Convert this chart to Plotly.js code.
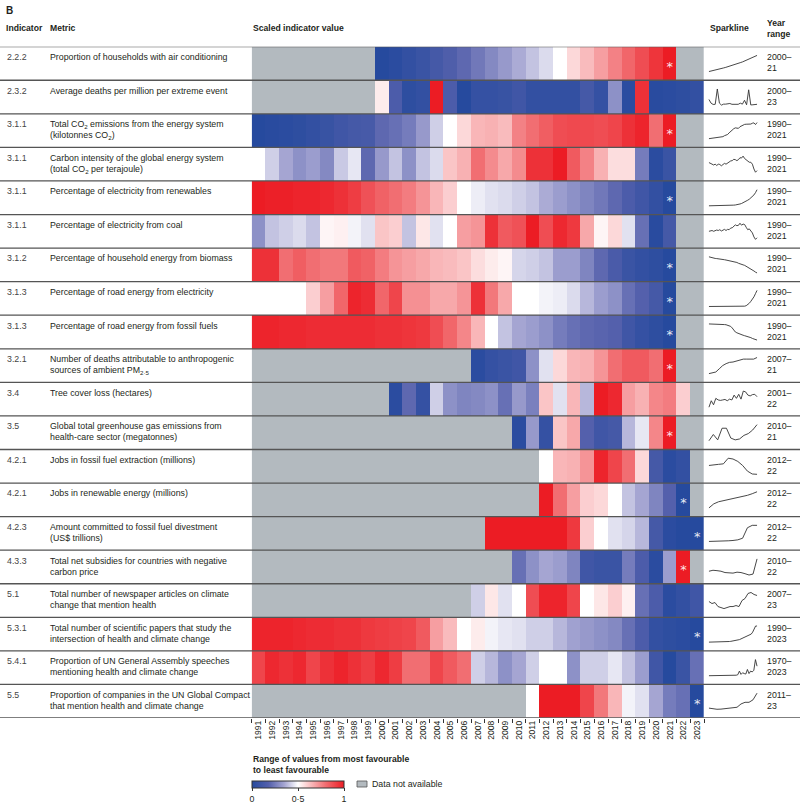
<!DOCTYPE html>
<html><head><meta charset="utf-8">
<script src="https://cdn.plot.ly/plotly-3.0.1.min.js"></script>
<style>html,body{margin:0;padding:0;background:#fff}#chart{width:800px;height:806px}</style>
</head><body><div id="chart"></div>
<script>
const years = [1991,1992,1993,1994,1995,1996,1997,1998,1999,2000,2001,2002,2003,2004,2005,2006,2007,2008,2009,2010,2011,2012,2013,2014,2015,2016,2017,2018,2019,2020,2021,2022,2023];
const indicators = ['2.2.2','2.3.2','3.1.1','3.1.1','3.1.1','3.1.1','3.1.2','3.1.3','3.1.3','3.2.1','3.4','3.5','4.2.1','4.2.1','4.2.3','4.3.3','5.1','5.3.1','5.4.1','5.5'];
const metrics = [
'Proportion of households with air conditioning',
'Average deaths per million per extreme event',
'Total CO<sub>2</sub> emissions from the energy system<br>(kilotonnes CO<sub>2</sub>)',
'Carbon intensity of the global energy system<br>(total CO<sub>2</sub> per terajoule)',
'Percentage of electricity from renewables',
'Percentage of electricity from coal',
'Percentage of household energy from biomass',
'Percentage of road energy from electricity',
'Percentage of road energy from fossil fuels',
'Number of deaths attributable to anthropogenic<br>sources of ambient PM<sub>2·5</sub>',
'Tree cover loss (hectares)',
'Global total greenhouse gas emissions from<br>health-care sector (megatonnes)',
'Jobs in fossil fuel extraction (millions)',
'Jobs in renewable energy (millions)',
'Amount committed to fossil fuel divestment<br>(US$ trillions)',
'Total net subsidies for countries with negative<br>carbon price',
'Total number of newspaper articles on climate<br>change that mention health',
'Total number of scientific papers that study the<br>intersection of health and climate change',
'Proportion of UN General Assembly speeches<br>mentioning health and climate change',
'Proportion of companies in the UN Global Compact<br>that mention health and climate change'
];
const yearRanges = ['2000–<br>21','2000–<br>23','1990–<br>2021','1990–<br>2021','1990–<br>2021','1990–<br>2021','1990–<br>2021','1990–<br>2021','1990–<br>2021','2007–<br>21','2001–<br>22','2010–<br>21','2012–<br>22','2012–<br>22','2012–<br>22','2010–<br>22','2007–<br>23','1990–<br>2023','1970–<br>2023','2011–<br>23'];

const N = null;
// scaled indicator values, 1991..2023 (null = data not available)
const sc_aircon = [N,N,N,N,N,N,N,N,N,0,0.02,0.05,0.08,0.12,0.16,0.2,0.24,0.28,0.32,0.36,0.4,0.44,0.5,0.58,0.64,0.7,0.76,0.82,0.88,0.94,1,N,N];
const sc_deaths = [N,N,N,N,N,N,N,N,N,0.54,0.15,0.03,0.05,1.0,0.15,0.0,0.06,0.06,0.07,0.1,0.05,0.05,0.05,0.05,0.12,0.06,0.3,0.02,0.95,0.01,0.02,0.03,0.05];
const sc_co2 = [0,0.01,0.02,0.03,0.05,0.07,0.1,0.12,0.13,0.2,0.22,0.25,0.32,0.42,0.5,0.58,0.65,0.66,0.64,0.76,0.8,0.84,0.88,0.89,0.89,0.88,0.9,0.95,0.98,0.8,1.0,N,N];
const sc_intensity = [0.5,0.42,0.35,0.3,0.33,0.28,0.41,0.46,0.2,0.32,0.4,0.3,0.4,0.44,0.62,0.66,0.8,0.74,0.68,0.74,0.95,0.95,1.0,0.85,0.76,0.66,0.57,0.57,0.25,0.02,0.08,N,N];
const sc_renew = [1.0,0.99,0.99,0.98,0.98,0.97,0.95,0.92,0.87,0.83,0.8,0.77,0.72,0.65,0.6,0.5,0.47,0.45,0.44,0.42,0.4,0.36,0.33,0.3,0.27,0.24,0.2,0.15,0.1,0.05,0.0,N,N];
const sc_coal = [0.3,0.4,0.42,0.44,0.4,0.52,0.53,0.48,0.45,0.62,0.6,0.4,0.55,0.45,0.5,0.7,0.72,0.95,0.85,0.87,1.0,0.88,0.97,0.93,0.68,0.52,0.58,0.45,0.22,0.01,0.12,N,N];
const sc_biomass = [0.95,0.95,0.8,0.84,0.8,0.78,0.78,0.85,0.83,0.77,0.72,0.7,0.68,0.65,0.64,0.62,0.57,0.54,0.52,0.43,0.42,0.4,0.33,0.33,0.27,0.2,0.14,0.08,0.05,0.03,0.0,N,N];
const sc_roadElec = [0.5,0.5,0.5,0.5,0.6,0.7,0.82,0.98,0.96,0.82,0.9,0.73,0.73,0.68,0.68,0.72,0.95,0.78,0.68,0.5,0.5,0.48,0.47,0.44,0.38,0.33,0.3,0.22,0.18,0.12,0.0,N,N];
const sc_roadFossil = [0.98,0.98,0.97,0.97,0.96,0.96,0.96,0.96,0.96,0.95,0.95,0.94,0.93,0.88,0.82,0.75,0.65,0.5,0.4,0.35,0.33,0.3,0.25,0.22,0.2,0.19,0.18,0.1,0.06,0.03,0.0,N,N];
const sc_pm25 = [N,N,N,N,N,N,N,N,N,N,N,N,N,N,N,N,0.02,0.06,0.08,0.1,0.3,0.45,0.58,0.65,0.66,0.72,0.8,0.85,0.85,0.8,1.0,N,N];
const sc_tree = [N,N,N,N,N,N,N,N,N,N,0.02,0.2,0.06,0.42,0.3,0.27,0.28,0.3,0.22,0.32,0.26,0.62,0.45,0.65,0.38,1.0,0.97,0.7,0.66,0.75,0.77,0.6,N];
const sc_health = [N,N,N,N,N,N,N,N,N,N,N,N,N,N,N,N,N,N,N,0.02,0.32,0.06,0.62,0.68,0.18,0.1,0.12,0.38,0.46,0.75,1.0,N,N];
const sc_jobsFossil = [N,N,N,N,N,N,N,N,N,N,N,N,N,N,N,N,N,N,N,N,N,0.5,0.65,0.66,0.72,0.98,0.9,0.8,0.58,0.12,0.02,0.05,N];
const sc_jobsRenew = [N,N,N,N,N,N,N,N,N,N,N,N,N,N,N,N,N,N,N,N,N,1.0,0.8,0.7,0.6,0.58,0.5,0.4,0.35,0.27,0.18,0.0,N];
const sc_divest = [N,N,N,N,N,N,N,N,N,N,N,N,N,N,N,N,N,1.0,1.0,1.0,1.0,1.0,1.0,0.93,0.6,0.5,0.45,0.43,0.38,0.12,0.02,0.0,0.0];
const sc_subsidy = [N,N,N,N,N,N,N,N,N,N,N,N,N,N,N,N,N,N,N,0.22,0.3,0.35,0.33,0.27,0.1,0.08,0.08,0.25,0.15,0.02,0.33,1.0,N];
const sc_news = [N,N,N,N,N,N,N,N,N,N,N,N,N,N,N,N,0.42,0.55,0.45,0.5,0.88,0.98,0.98,0.9,0.5,0.55,0.6,0.53,0.22,0.15,0.02,0.05,0.1];
const sc_papers = [0.98,0.98,0.98,0.97,0.96,0.96,0.95,0.95,0.93,0.92,0.91,0.9,0.85,0.7,0.64,0.5,0.54,0.48,0.46,0.45,0.42,0.42,0.38,0.34,0.32,0.3,0.28,0.22,0.15,0.05,0.03,0.02,0.0];
const sc_unga = [0.9,0.97,0.95,0.97,0.9,0.95,0.98,0.95,0.92,0.97,0.92,0.8,0.8,0.9,0.85,0.8,0.42,0.38,0.3,0.35,0.42,0.5,0.5,0.3,0.42,0.42,0.46,0.4,0.33,0.1,0.0,0.08,0.22];
const sc_compact = [N,N,N,N,N,N,N,N,N,N,N,N,N,N,N,N,N,N,N,N,0.5,1.0,1.0,1.0,0.9,0.78,0.65,0.48,0.45,0.35,0.25,0.22,0.0];

// sparkline raw series (relative shape over each year range)
const sp_aircon = [0,0.03,0.06,0.1,0.14,0.18,0.22,0.26,0.3,0.35,0.4,0.45,0.5,0.55,0.6,0.66,0.72,0.78,0.85,0.92,1.0];
const sp_deaths = [0.35,0.12,0.04,0.05,1.0,0.12,0.0,0.06,0.06,0.07,0.1,0.05,0.05,0.05,0.05,0.12,0.06,0.3,0.02,0.95,0.01,0.02,0.03,0.05];
const sp_co2 = [0,0.01,0.02,0.02,0.04,0.06,0.08,0.1,0.1,0.12,0.18,0.2,0.25,0.35,0.45,0.52,0.6,0.65,0.64,0.62,0.72,0.78,0.82,0.86,0.87,0.86,0.86,0.88,0.93,0.95,0.85,0.97];
const sp_intensity = [0.6,0.55,0.5,0.45,0.5,0.42,0.5,0.48,0.4,0.5,0.55,0.5,0.58,0.6,0.7,0.72,0.8,0.78,0.72,0.78,0.9,0.88,1.0,0.85,0.78,0.72,0.62,0.62,0.5,0.2,0.0,0.1];
const sp_renew = [0.02,0.02,0.02,0.03,0.03,0.03,0.03,0.03,0.03,0.03,0.02,0.03,0.03,0.03,0.04,0.05,0.06,0.07,0.08,0.1,0.13,0.16,0.2,0.25,0.3,0.36,0.42,0.5,0.58,0.68,0.82,1.0];
const sp_coal = [0.5,0.52,0.55,0.5,0.55,0.58,0.55,0.6,0.52,0.6,0.62,0.55,0.62,0.6,0.7,0.72,0.8,0.9,0.85,0.87,1.0,0.88,0.95,0.92,0.75,0.6,0.65,0.55,0.4,0.15,0.0,0.1];
const sp_biomass = [1.0,0.97,0.93,0.94,0.9,0.89,0.88,0.89,0.87,0.85,0.82,0.8,0.78,0.76,0.75,0.72,0.7,0.67,0.65,0.6,0.58,0.55,0.5,0.47,0.42,0.37,0.3,0.25,0.18,0.12,0.05,0.0];
const sp_roadElec = [0,0,0,0,0,0,0,0,0,0,0,0,0,0,0,0,0,0,0,0,0,0,0.01,0.02,0.05,0.1,0.2,0.32,0.45,0.6,0.8,1.0];
const sp_roadFossil = [1.0,1.0,1.0,0.99,0.99,0.98,0.98,0.98,0.97,0.97,0.96,0.95,0.93,0.9,0.85,0.75,0.62,0.5,0.45,0.4,0.38,0.35,0.3,0.27,0.25,0.22,0.2,0.15,0.1,0.06,0.02,0.0];
const sp_pm25 = [0,0.05,0.1,0.3,0.5,0.62,0.7,0.72,0.78,0.85,0.9,0.9,0.88,0.9,1.0];
const sp_tree = [0.0,0.4,0.15,0.55,0.45,0.42,0.45,0.48,0.4,0.5,0.45,0.75,0.55,0.8,0.5,1.0,0.95,0.75,0.7,0.78,0.8,0.65];
const sp_health = [0.1,0.45,0.15,0.8,0.8,0.25,0.15,0.2,0.4,0.5,0.7,1.0];
const sp_jobsFossil = [0.55,0.6,0.62,0.65,1.0,0.95,0.8,0.55,0.2,0.02,0.0];
const sp_jobsRenew = [0,0.25,0.38,0.45,0.5,0.55,0.62,0.7,0.78,0.88,1.0];
const sp_divest = [0,0,0.01,0.02,0.04,0.06,0.1,0.2,0.85,1.0,1.0];
const sp_subsidy = [0.35,0.4,0.38,0.35,0.28,0.25,0.25,0.3,0.28,0.22,0.15,0.2,1.0];
const sp_news = [0.55,0.45,0.5,0.3,0.25,0.2,0.25,0.3,0.3,0.35,0.3,0.6,0.7,0.95,1.0,0.9,0.85];
const sp_papers = [0,0,0,0,0,0.01,0.01,0.01,0.01,0.02,0.02,0.02,0.03,0.03,0.04,0.05,0.06,0.08,0.1,0.12,0.14,0.16,0.2,0.24,0.28,0.32,0.36,0.4,0.45,0.5,0.62,0.8,1.0,1.0];
const sp_unga = [0.02,0.02,0.02,0.02,0.03,0.02,0.02,0.03,0.02,0.03,0.04,0.03,0.04,0.03,0.05,0.04,0.06,0.05,0.08,0.3,0.1,0.2,0.15,0.12,0.4,0.15,0.3,0.25,0.35,1.0,0.6];
const sp_compact = [0.1,0.05,0.03,0.04,0.06,0.08,0.1,0.15,0.35,0.45,0.45,0.6,1.0];

// asterisk cells: [row index, year]
const starRows = [0,2,4,6,7,8,9,11,13,14,15,17,19];
const starYears = [2021,2021,2021,2021,2021,2021,2021,2021,2022,2023,2022,2023,2023];

const scaledRows = [sc_aircon,sc_deaths,sc_co2,sc_intensity,sc_renew,sc_coal,sc_biomass,sc_roadElec,sc_roadFossil,sc_pm25,sc_tree,sc_health,sc_jobsFossil,sc_jobsRenew,sc_divest,sc_subsidy,sc_news,sc_papers,sc_unga,sc_compact];
const sparkRows = [sp_aircon,sp_deaths,sp_co2,sp_intensity,sp_renew,sp_coal,sp_biomass,sp_roadElec,sp_roadFossil,sp_pm25,sp_tree,sp_health,sp_jobsFossil,sp_jobsRenew,sp_divest,sp_subsidy,sp_news,sp_papers,sp_unga,sp_compact];

const W = 800, H = 806;
const px = x => x / W, py = y => 1 - y / H;
const FONT = '"Liberation Sans", Arial, sans-serif';
const TXT = '#231f20';
const GREY = '#b3babf';
const FS = 8.8, FH = 8.6;
const rowIdx = metrics.map((_, i) => i);
const yDom = [py(718), py(46.7)];

const traces = [];
traces.push({
  type: 'heatmap', x: years, y: rowIdx,
  z: scaledRows.map(r => r.map(v => v === null ? 1 : null)),
  colorscale: [[0, GREY], [1, GREY]], zmin: 0, zmax: 1, showscale: false, hoverinfo: 'skip'
});
traces.push({
  type: 'heatmap', x: years, y: rowIdx, z: scaledRows, zmin: 0, zmax: 1,
  colorscale: [[0,'rgb(38,74,158)'],[0.18,'rgb(84,96,172)'],[0.35,'rgb(165,165,210)'],[0.5,'rgb(255,255,255)'],[0.65,'rgb(249,182,184)'],[0.8,'rgb(241,110,114)'],[1,'rgb(236,28,36)']],
  colorbar: {
    orientation: 'h', x: px(252), xanchor: 'left', y: py(781), yanchor: 'top',
    len: 92, lenmode: 'pixels', thickness: 7, thicknessmode: 'pixels',
    outlinewidth: 1, outlinecolor: '#333', xpad: 0, ypad: 0,
    tickvals: [0, 0.5, 1], ticktext: ['0', '0·5', '1'], ticks: 'outside', ticklen: 3, tickcolor: '#333',
    tickfont: {family: FONT, size: FS, color: TXT}
  },
  hoverinfo: 'skip'
});
traces.push({
  type: 'scatter', mode: 'text', x: starYears, y: starRows.map(r => r + 0.12),
  text: starYears.map(() => '*'), textposition: 'middle center',
  textfont: {family: 'DejaVu Sans', size: 13, color: 'rgba(255,255,255,0.9)'}, hoverinfo: 'skip', showlegend: false
});
sparkRows.forEach((s, i) => {
  const mn = Math.min(...s), mx = Math.max(...s);
  traces.push({
    type: 'scatter', mode: 'lines', xaxis: 'x2', yaxis: 'y2',
    x: s.map((_, k) => k / (s.length - 1)),
    y: s.map(v => i + 0.24 - 0.48 * (v - mn) / (mx - mn)),
    line: {color: '#333', width: 0.9}, hoverinfo: 'skip', showlegend: false
  });
});

const shapes = [];
for (let i = 0; i <= metrics.length; i++) {
  shapes.push({type: 'line', xref: 'paper', yref: 'y', x0: 0, x1: 1, y0: i - 0.5, y1: i - 0.5,
    line: {color: '#555', width: 1.3}, layer: 'above'});
}
shapes.push({type: 'rect', xref: 'paper', yref: 'paper', x0: px(357), x1: px(367), y0: py(787), y1: py(781),
  fillcolor: GREY, line: {color: '#555', width: 0.8}});

const ann = [];
const add = (o) => ann.push(Object.assign({showarrow: false, xanchor: 'left', yanchor: 'middle', font: {family: FONT, size: FH, color: TXT}}, o));
add({xref: 'paper', yref: 'paper', x: px(4), y: py(10), text: '<b>B</b>', font: {family: FONT, size: 10, color: TXT}});
add({xref: 'paper', yref: 'paper', x: px(4), y: py(28), text: '<b>Indicator</b>'});
add({xref: 'paper', yref: 'paper', x: px(48), y: py(28), text: '<b>Metric</b>'});
add({xref: 'paper', yref: 'paper', x: px(251), y: py(28), text: '<b>Scaled indicator value</b>'});
add({xref: 'paper', yref: 'paper', x: px(708), y: py(28), text: '<b>Sparkline</b>'});
add({xref: 'paper', yref: 'paper', x: px(765), y: py(28.5), text: '<b>Year<br>range</b>', align: 'left'});
metrics.forEach((m, i) => {
  add({xref: 'paper', yref: 'y', x: px(5), y: i - 0.5 + 0.1, yanchor: 'top', text: indicators[i], font: {family: FONT, size: FS, color: '#444'}});
  add({xref: 'paper', yref: 'y', x: px(48), y: i - 0.5 + 0.1, yanchor: 'top', text: m, align: 'left', font: {family: FONT, size: FS, color: TXT}});
  add({xref: 'paper', yref: 'y', x: px(765), y: i - 0.5 + 0.1, yanchor: 'top', text: yearRanges[i], align: 'left', font: {family: FONT, size: FS, color: TXT}});
});
add({xref: 'paper', yref: 'paper', x: px(251), y: py(752), yanchor: 'top', align: 'left',
  text: '<b>Range of values from most favourable<br>to least favourable</b>'});
add({xref: 'paper', yref: 'paper', x: px(370), y: py(784), text: 'Data not available', font: {family: FONT, size: FS, color: TXT}});

const layout = {
  width: W, height: H, margin: {l: 0, r: 0, t: 0, b: 0},
  paper_bgcolor: '#fff', plot_bgcolor: 'rgba(0,0,0,0)', showlegend: false,
  xaxis: {domain: [px(251.7), px(704)], range: [1990.5, 2023.5], anchor: 'y',
    tickvals: years, ticktext: years.map(String), tickangle: -90, ticks: '',
    tickfont: {family: FONT, size: 8.6, color: TXT}, showgrid: false, zeroline: false, showline: false,
    minor: {tickvals: years.map(y => y - 0.5).concat([2023.5]), ticks: 'outside', ticklen: 4, tickcolor: '#333', showgrid: false}},
  yaxis: {domain: yDom, range: [19.5, -0.5], showticklabels: false, ticks: '', showgrid: false, zeroline: false},
  xaxis2: {domain: [px(708), px(758)], range: [-0.02, 1.02], anchor: 'y2', visible: false},
  yaxis2: {domain: yDom, range: [19.5, -0.5], anchor: 'x2', visible: false},
  shapes: shapes, annotations: ann
};
Plotly.newPlot('chart', traces, layout, {staticPlot: true, displayModeBar: false});
</script></body></html>
